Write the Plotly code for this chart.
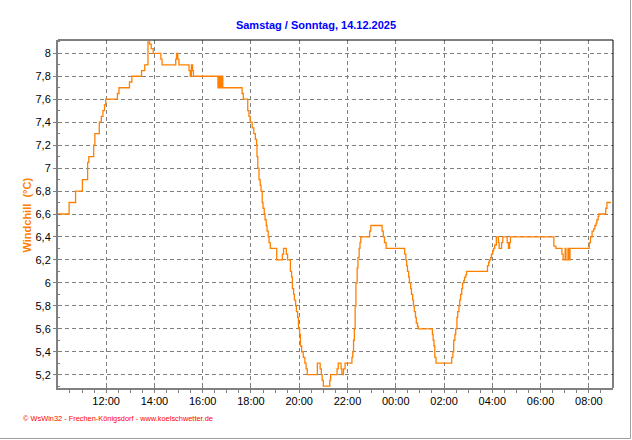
import plotly.graph_objects as go

# ---- data (change points of a stepped series) ----
times = [
    "2025-12-13 10:00", "2025-12-13 10:28", "2025-12-13 10:44", "2025-12-13 11:01",
    "2025-12-13 11:14", "2025-12-13 11:17", "2025-12-13 11:29", "2025-12-13 11:32",
    "2025-12-13 11:43", "2025-12-13 11:48", "2025-12-13 11:52", "2025-12-13 11:56",
    "2025-12-13 11:59", "2025-12-13 12:28", "2025-12-13 12:32", "2025-12-13 12:58",
    "2025-12-13 13:04", "2025-12-13 13:28", "2025-12-13 13:36", "2025-12-13 13:44",
    "2025-12-13 13:48", "2025-12-13 13:52", "2025-12-13 13:57", "2025-12-13 14:16",
    "2025-12-13 14:19", "2025-12-13 14:53", "2025-12-13 14:55", "2025-12-13 14:58",
    "2025-12-13 15:01", "2025-12-13 15:26", "2025-12-13 15:29", "2025-12-13 15:32",
    "2025-12-13 15:35", "2025-12-13 15:37", "2025-12-13 16:38", "2025-12-13 16:41",
    "2025-12-13 16:44", "2025-12-13 16:47", "2025-12-13 16:50", "2025-12-13 17:38",
    "2025-12-13 17:41", "2025-12-13 17:52", "2025-12-13 17:55", "2025-12-13 17:58",
    "2025-12-13 18:03", "2025-12-13 18:07", "2025-12-13 18:11", "2025-12-13 18:14",
    "2025-12-13 18:15", "2025-12-13 18:17", "2025-12-13 18:20", "2025-12-13 18:23",
    "2025-12-13 18:25", "2025-12-13 18:28", "2025-12-13 18:30", "2025-12-13 18:33",
    "2025-12-13 18:35", "2025-12-13 18:38", "2025-12-13 18:40", "2025-12-13 18:43",
    "2025-12-13 18:45", "2025-12-13 18:48", "2025-12-13 19:04", "2025-12-13 19:18",
    "2025-12-13 19:21", "2025-12-13 19:28", "2025-12-13 19:31", "2025-12-13 19:38",
    "2025-12-13 19:41", "2025-12-13 19:43", "2025-12-13 19:46", "2025-12-13 19:48",
    "2025-12-13 19:51", "2025-12-13 19:53", "2025-12-13 19:56", "2025-12-13 19:58",
    "2025-12-13 20:01", "2025-12-13 20:03", "2025-12-13 20:06", "2025-12-13 20:10",
    "2025-12-13 20:14", "2025-12-13 20:17", "2025-12-13 20:20", "2025-12-13 20:45",
    "2025-12-13 20:52", "2025-12-13 20:55", "2025-12-13 20:57", "2025-12-13 21:00",
    "2025-12-13 21:16", "2025-12-13 21:18", "2025-12-13 21:34", "2025-12-13 21:37",
    "2025-12-13 21:44", "2025-12-13 21:46", "2025-12-13 21:50", "2025-12-13 21:54",
    "2025-12-13 22:11", "2025-12-13 22:13", "2025-12-13 22:15", "2025-12-13 22:17",
    "2025-12-13 22:19", "2025-12-13 22:21", "2025-12-13 22:24", "2025-12-13 22:26",
    "2025-12-13 22:29", "2025-12-13 22:31", "2025-12-13 22:33", "2025-12-13 22:55",
    "2025-12-13 22:58", "2025-12-13 23:26", "2025-12-13 23:29", "2025-12-13 23:32",
    "2025-12-13 23:36", "2025-12-14 00:22", "2025-12-14 00:25", "2025-12-14 00:27",
    "2025-12-14 00:29", "2025-12-14 00:32", "2025-12-14 00:34", "2025-12-14 00:37",
    "2025-12-14 00:39", "2025-12-14 00:42", "2025-12-14 00:44", "2025-12-14 00:46",
    "2025-12-14 00:49", "2025-12-14 00:51", "2025-12-14 00:54", "2025-12-14 00:56",
    "2025-12-14 01:31", "2025-12-14 01:33", "2025-12-14 01:35", "2025-12-14 01:37",
    "2025-12-14 01:40", "2025-12-14 02:19", "2025-12-14 02:22", "2025-12-14 02:24",
    "2025-12-14 02:27", "2025-12-14 02:29", "2025-12-14 02:32", "2025-12-14 02:34",
    "2025-12-14 02:37", "2025-12-14 02:39", "2025-12-14 02:41", "2025-12-14 02:44",
    "2025-12-14 02:46", "2025-12-14 02:49", "2025-12-14 02:51", "2025-12-14 02:54",
    "2025-12-14 02:56", "2025-12-14 03:48", "2025-12-14 03:51", "2025-12-14 03:53",
    "2025-12-14 03:56", "2025-12-14 03:58", "2025-12-14 04:01", "2025-12-14 04:03",
    "2025-12-14 04:06", "2025-12-14 04:10", "2025-12-14 04:15", "2025-12-14 04:17",
    "2025-12-14 04:23", "2025-12-14 04:26", "2025-12-14 04:37", "2025-12-14 04:40",
    "2025-12-14 04:43", "2025-12-14 04:45", "2025-12-14 06:33", "2025-12-14 06:38",
    "2025-12-14 06:53", "2025-12-14 06:56", "2025-12-14 07:01", "2025-12-14 07:03",
    "2025-12-14 07:08", "2025-12-14 07:10", "2025-12-14 07:13", "2025-12-14 08:01",
    "2025-12-14 08:04", "2025-12-14 08:08", "2025-12-14 08:12", "2025-12-14 08:15",
    "2025-12-14 08:18", "2025-12-14 08:20", "2025-12-14 08:23", "2025-12-14 08:25",
    "2025-12-14 08:42", "2025-12-14 08:45", "2025-12-14 08:55",
]
values = [
    6.6, 6.7, 6.8, 6.9,
    7.05, 7.1, 7.2, 7.3,
    7.4, 7.45, 7.5, 7.55,
    7.6, 7.65, 7.7, 7.75,
    7.8, 7.85, 7.9, 8.1,
    8.08, 8.04, 8.0, 7.95,
    7.9, 7.95, 8.0, 7.95,
    7.9, 7.85, 7.8, 7.9,
    7.85, 7.8, 7.7, 7.8,
    7.7, 7.8, 7.7, 7.65,
    7.6, 7.5, 7.45, 7.4,
    7.35, 7.3, 7.25, 7.2,
    7.1, 7.0, 6.9, 6.85,
    6.8, 6.7, 6.65, 6.6,
    6.55, 6.5, 6.45, 6.4,
    6.35, 6.3, 6.2, 6.25,
    6.3, 6.25, 6.2, 6.1,
    6.05, 5.95, 5.9, 5.85,
    5.8, 5.75, 5.7, 5.6,
    5.55, 5.45, 5.4, 5.35,
    5.3, 5.25, 5.2, 5.3,
    5.25, 5.2, 5.15, 5.1,
    5.15, 5.2, 5.25, 5.3,
    5.25, 5.2, 5.25, 5.3,
    5.35, 5.4, 5.5, 5.6,
    5.8, 6.0, 6.13, 6.22,
    6.3, 6.35, 6.4, 6.45,
    6.5, 6.45, 6.4, 6.35,
    6.3, 6.25, 6.2, 6.15,
    6.1, 6.05, 6.0, 5.95,
    5.9, 5.85, 5.8, 5.75,
    5.7, 5.65, 5.62, 5.6,
    5.55, 5.5, 5.45, 5.35,
    5.3, 5.35, 5.4, 5.5,
    5.55, 5.6, 5.7, 5.75,
    5.8, 5.85, 5.9, 5.95,
    6.0, 6.02, 6.05, 6.07,
    6.1, 6.15, 6.18, 6.2,
    6.22, 6.25, 6.28, 6.3,
    6.33, 6.4, 6.35, 6.3,
    6.35, 6.4, 6.35, 6.3,
    6.35, 6.4, 6.32, 6.3,
    6.25, 6.2, 6.3, 6.2,
    6.3, 6.2, 6.3, 6.35,
    6.4, 6.45, 6.47, 6.5,
    6.52, 6.55, 6.58, 6.6,
    6.65, 6.7, 6.7,
]

title_text = "Samstag / Sonntag, 14.12.2025"
y_title = "Windchill  (°C)"
footer_text = "© WsWin32 - Frechen-Königsdorf - www.koelschwetter.de"
x_range = ["2025-12-13 10:00:20", "2025-12-14 09:00"]
y_range = [5.084, 8.116]

FONT = "Liberation Sans, Arial, sans-serif"
ORANGE = "#FF8000"
GRID = "#808080"

fig = go.Figure()
fig.add_trace(go.Scatter(
    x=times, y=values, mode="lines",
    line=dict(color=ORANGE, width=1.3, shape="hv"),
    showlegend=False, hoverinfo="skip",
))

fig.update_layout(
    width=632, height=440,
    margin=dict(l=58, r=19, t=40, b=52),
    paper_bgcolor="white", plot_bgcolor="white",
    separators=",.",
    font=dict(family=FONT, size=11, color="black"),
    title=dict(text="<b>" + title_text + "</b>", xref="container", x=0.5, xanchor="center",
               yref="container", y=1 - 25.5 / 440, yanchor="middle",
               font=dict(family=FONT, size=11, color="#0000FF")),
)

fig.update_xaxes(
    type="date", range=x_range, tickformat="%H:%M",
    dtick=2 * 3600 * 1000, tick0="2025-12-13 00:00",
    ticks="inside", ticklen=4, tickcolor=GRID, tickwidth=1,
    minor=dict(dtick=30 * 60 * 1000, ticks="outside", ticklen=3, tickcolor=GRID, showgrid=False),
    showgrid=True, gridcolor=GRID, griddash="4px,3px", gridwidth=1,
    showline=True, linecolor=GRID, linewidth=2, zeroline=False,
    tickfont=dict(family=FONT, size=11, color="black"),
    ticklabelstandoff=2,
)
fig.update_yaxes(
    range=y_range, dtick=0.2, tick0=0,
    ticks="outside", ticklen=3, tickcolor=GRID, tickwidth=1,
    minor=dict(dtick=0.1, ticks="inside", ticklen=2, tickcolor=GRID, showgrid=False),
    showgrid=True, gridcolor=GRID, griddash="4px,3px", gridwidth=1,
    showline=True, linecolor=GRID, linewidth=2, zeroline=False,
    tickfont=dict(family=FONT, size=11, color="black"),
)

# top and right frame of plot area (black)
fig.add_shape(type="line", xref="paper", yref="paper", x0=0, x1=1, y0=1, y1=1,
              line=dict(color="black", width=1))
fig.add_shape(type="line", xref="paper", yref="paper", x0=1, x1=1, y0=0, y1=1,
              line=dict(color="black", width=1))
# outer image frame (right, bottom)
W, H = 555.0, 348.0
fig.add_shape(type="line", xref="paper", yref="paper",
              x0=(630.5 - 58) / W, x1=(630.5 - 58) / W, y0=(388 - 438.5) / H, y1=388 / H,
              line=dict(color="#A0A0A0", width=1))
fig.add_shape(type="line", xref="paper", yref="paper",
              x0=-58 / W, x1=(630.5 - 58) / W, y0=(388 - 438.5) / H, y1=(388 - 438.5) / H,
              line=dict(color="#A0A0A0", width=1))

fig.add_annotation(text="<b>" + y_title + "</b>", textangle=-90, showarrow=False,
                   xref="paper", yref="paper", x=(26 - 58) / W, y=(388 - 215.5) / H,
                   xanchor="center", yanchor="middle",
                   font=dict(family=FONT, size=11, color=ORANGE))
fig.add_annotation(text=footer_text, showarrow=False,
                   xref="paper", yref="paper", x=(21 - 58) / W, y=(388 - 418.5) / H,
                   xanchor="left", yanchor="middle",
                   font=dict(family=FONT, size=7.4, color="#FF0000"))

fig.write_html("out.html", config={"displayModeBar": False},
               post_script="document.body.style.margin='0';document.body.style.overflow='hidden';")
